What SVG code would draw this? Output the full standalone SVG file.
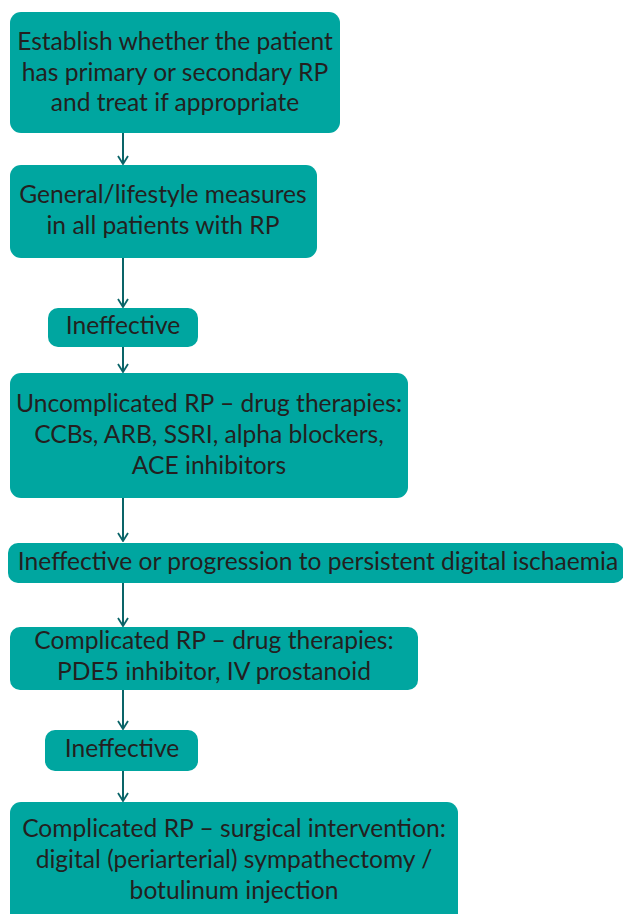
<svg xmlns="http://www.w3.org/2000/svg" width="623" height="914" viewBox="0 0 623 914">
<defs>
<style>
.box{fill:#00A6A0;}
.t{font-family:Lato,"Open Sans","Liberation Sans",sans-serif;font-size:24.6px;fill:#231F20;text-anchor:middle;}
.c{stroke:#0A6468;stroke-width:2;fill:none;}
</style>
<marker id="ah" viewBox="0 0 12 12" refX="11" refY="6" markerWidth="12" markerHeight="12" markerUnits="userSpaceOnUse" orient="auto">
<path d="M3,1 L11,6 L3,11" fill="none" stroke="#0A6468" stroke-width="1.8"/>
</marker>
</defs>
<rect width="623" height="914" fill="#fff"/>
<g id="connectors">
<line class="c" x1="123" y1="133" x2="123" y2="164" marker-end="url(#ah)"/>
<line class="c" x1="123" y1="258" x2="123" y2="307" marker-end="url(#ah)"/>
<line class="c" x1="123" y1="347" x2="123" y2="372" marker-end="url(#ah)"/>
<line class="c" x1="123" y1="498" x2="123" y2="541" marker-end="url(#ah)"/>
<line class="c" x1="123" y1="583" x2="123" y2="626" marker-end="url(#ah)"/>
<line class="c" x1="123" y1="690" x2="123" y2="729" marker-end="url(#ah)"/>
<line class="c" x1="123" y1="771" x2="123" y2="801" marker-end="url(#ah)"/>
</g>
<g id="n1">
<rect class="box" x="10" y="12" width="330" height="121" rx="11"/>
<text class="t" x="175" y="50">Establish whether the patient</text>
<text class="t" x="175" y="81">has primary or secondary RP</text>
<text class="t" x="175" y="111">and treat if appropriate</text>
</g>
<g id="n2">
<rect class="box" x="10" y="165" width="307" height="93" rx="11"/>
<text class="t" x="163" y="203">General/lifestyle measures</text>
<text class="t" x="163" y="234">in all patients with RP</text>
</g>
<g id="n3">
<rect class="box" x="48" y="308" width="150" height="39" rx="10"/>
<text class="t" x="123" y="334">Ineffective</text>
</g>
<g id="n4">
<rect class="box" x="10" y="373" width="398" height="125" rx="11"/>
<text class="t" x="209" y="412">Uncomplicated RP – drug therapies:</text>
<text class="t" x="209" y="443">CCBs, ARB, SSRI, alpha blockers,</text>
<text class="t" x="209" y="474">ACE inhibitors</text>
</g>
<g id="n5">
<rect class="box" x="8" y="543" width="616" height="40" rx="10"/>
<text class="t" x="318" y="570">Ineffective or progression to persistent digital ischaemia</text>
</g>
<g id="n6">
<rect class="box" x="10" y="627" width="408" height="63" rx="10"/>
<text class="t" x="214" y="649">Complicated RP – drug therapies:</text>
<text class="t" x="214" y="680">PDE5 inhibitor, IV prostanoid</text>
</g>
<g id="n7">
<rect class="box" x="45" y="730" width="153" height="41" rx="10"/>
<text class="t" x="122" y="757">Ineffective</text>
</g>
<g id="n8">
<rect class="box" x="10" y="802" width="448" height="125" rx="11"/>
<text class="t" x="234" y="837">Complicated RP – surgical intervention:</text>
<text class="t" x="234" y="868">digital (periarterial) sympathectomy /</text>
<text class="t" x="234" y="899">botulinum injection</text>
</g>
</svg>
